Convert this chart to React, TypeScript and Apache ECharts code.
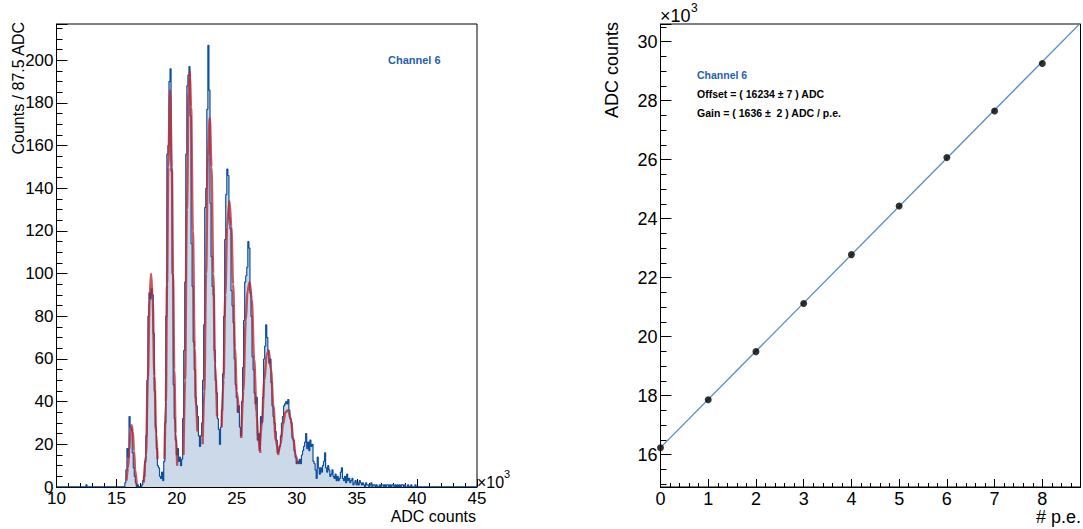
import React, { useEffect, useRef } from 'react';
import * as echarts from 'echarts';

// ---------- Left panel: ADC spectrum (bins of 87.5 ADC) ----------
const HIST_MIN = 10000;
const HIST_MAX = 45000;
const BIN_WIDTH = 87.5;
const FIRST_BIN = 65; // first listed bin starts at 15687.5 ADC
const counts = [
  2, 8, 18, 14, 33, 28, 27, 16, 9, 5,
  2, 0, 1, 0, 0, 0, 1, 3, 5, 12,
  24, 50, 80, 91, 88, 93, 90, 72, 45, 28,
  18, 10, 9, 5, 4, 7, 3, 12, 30, 80,
  156, 160, 190, 196, 148, 100, 48, 32, 22, 15,
  18, 12, 14, 10, 13, 32, 64, 96, 156, 188,
  193, 197, 174, 114, 94, 68, 55, 42, 38, 33,
  24, 19, 24, 30, 50, 76, 131, 140, 177, 207,
  186, 133, 108, 94, 90, 64, 50, 44, 32, 27,
  20, 28, 36, 53, 80, 116, 137, 149, 146, 126,
  121, 92, 85, 77, 60, 48, 42, 35, 38, 28,
  24, 40, 56, 78, 96, 99, 103, 115, 112, 91,
  80, 61, 55, 44, 39, 42, 22, 25, 18, 33,
  30, 42, 60, 66, 76, 70, 64, 58, 60, 49,
  38, 33, 30, 26, 22, 16, 17, 19, 24, 30,
  33, 38, 39, 40, 39, 41, 36, 32, 30, 23,
  22, 17, 14, 11, 12, 11, 13, 11, 15, 17,
  19, 21, 25, 18, 21, 17, 22, 19, 20, 12,
  11, 8, 4, 14, 9, 6, 9, 7, 10, 12,
  16, 9, 7, 10, 8, 5, 6, 8, 5, 4,
  6, 3, 5, 3, 4, 7, 9, 4, 3, 5,
  2, 6, 3, 4, 2, 3, 4, 1, 2, 3,
  1, 2, 1, 3, 2, 1, 2, 1, 0, 2,
  1, 1, 0, 1, 2, 0, 1, 1, 0, 1,
  0, 0, 1, 0, 1, 1, 0, 1, 0, 1,
  1, 0, 1, 0, 1, 1, 0, 1, 0, 1,
  0, 1, 0, 1, 1, 0, 1, 0, 0, 1,
  0, 0, 1, 0, 0, 0, 1,
];
const strayBins: [number, number][] = [[28, 1]];

// fitted peaks, read as [ADC, counts] along each red curve
const fitSegments: [number, number][][] = [
  [[15820, 3], [15950, 9], [16050, 17], [16150, 26], [16250, 29], [16350, 26], [16450, 17], [16550, 8], [16680, 1]],
  [[17260, 2], [17450, 15], [17600, 50], [17750, 88], [17870, 100], [18000, 88], [18150, 52], [18300, 25], [18410, 13]],
  [[18990, 13], [19100, 40], [19200, 95], [19300, 150], [19450, 186], [19600, 150], [19700, 100], [19800, 55], [19920, 25], [20050, 10]],
  [[20570, 15], [20700, 50], [20850, 130], [21000, 185], [21090, 195], [21200, 178], [21350, 120], [21500, 65], [21620, 38], [21730, 26]],
  [[22160, 20], [22300, 45], [22450, 100], [22600, 155], [22760, 173], [22900, 150], [23050, 100], [23200, 58], [23370, 33]],
  [[23740, 28], [23900, 50], [24050, 90], [24200, 122], [24400, 134], [24550, 122], [24700, 95], [24850, 65], [25000, 45], [25180, 35]],
  [[25380, 23], [25550, 45], [25750, 78], [25900, 92], [26080, 96], [26250, 88], [26450, 60], [26650, 35], [26800, 22], [26970, 16]],
  [[26900, 17], [27100, 30], [27300, 50], [27500, 62], [27660, 64], [27850, 55], [28050, 38], [28250, 22], [28440, 16]],
  [[28440, 15], [28650, 20], [28850, 29], [29050, 35], [29270, 36], [29500, 32], [29700, 23], [29900, 15], [30080, 11]],
];

// ---------- Right panel: peak position vs number of p.e. ----------
const peNumbers = [0, 1, 2, 3, 4, 5, 6, 7, 8];
const peakPositions = [16230, 17860, 19490, 21120, 22780, 24430, 26070, 27650, 29260];
const fitLineX = [0, 8.8];
const fitLineY = [16234, 30631];

const FONT = '"Liberation Sans", Arial, Helvetica, sans-serif';

export default function App() {
  const ref = useRef<HTMLDivElement>(null);

  useEffect(() => {
    if (!ref.current) return;
    const chart = echarts.init(ref.current, null, { renderer: 'svg' });

    const nBins = Math.round((HIST_MAX - HIST_MIN) / BIN_WIDTH);
    const full: number[] = new Array(nBins).fill(0);
    strayBins.forEach(([b, c]) => { full[b] = c; });
    counts.forEach((c, i) => { full[FIRST_BIN + i] = c; });
    const histData = full.map((c, i) => [HIST_MIN + i * BIN_WIDTH, c]);
    histData.push([HIST_MAX, full[nBins - 1]]);

    const axisCommon = {
      axisLine: { show: true, onZero: false, lineStyle: { color: '#000', width: 1 } },
      splitLine: { show: false },
    };

    const option: any = {
      animation: false,
      backgroundColor: '#fff',
      grid: [
        { left: 56.5, top: 24, width: 420.5, height: 463, show: true, borderColor: '#000', borderWidth: 1, backgroundColor: 'transparent' },
        { left: 660.5, top: 24, width: 420, height: 463, show: true, borderColor: '#000', borderWidth: 1, backgroundColor: 'transparent' },
      ],
      xAxis: [
        {
          ...axisCommon,
          gridIndex: 0, type: 'value', min: HIST_MIN, max: HIST_MAX, interval: 5000,
          axisTick: { show: true, inside: true, length: 8, lineStyle: { color: '#000' } },
          minorTick: { show: true, splitNumber: 5, length: 4, lineStyle: { color: '#000' } },
          axisLabel: { color: '#000', fontSize: 17, fontFamily: FONT, margin: 3, formatter: (v: number) => String(v / 1000) },
        },
        {
          ...axisCommon,
          gridIndex: 1, type: 'value', min: 0, max: 8.8, interval: 1,
          axisTick: { show: true, inside: true, length: 8, lineStyle: { color: '#000' } },
          minorTick: { show: true, splitNumber: 5, length: 4, lineStyle: { color: '#000' } },
          axisLabel: { color: '#000', fontSize: 18, fontFamily: FONT, margin: 3, showMaxLabel: false },
        },
      ],
      yAxis: [
        {
          ...axisCommon,
          gridIndex: 0, type: 'value', min: 0, max: 217, interval: 20,
          axisTick: { show: true, inside: true, length: 11, lineStyle: { color: '#000' } },
          minorTick: { show: true, splitNumber: 4, length: 6, lineStyle: { color: '#000' } },
          axisLabel: { color: '#000', fontSize: 17, fontFamily: FONT, margin: 3, showMaxLabel: false },
        },
        {
          ...axisCommon,
          gridIndex: 1, type: 'value', min: 14900, max: 30600, splitNumber: 8,
          axisTick: { show: true, inside: true, length: 11, lineStyle: { color: '#000' } },
          minorTick: { show: true, splitNumber: 4, length: 6, lineStyle: { color: '#000' } },
          axisLabel: {
            color: '#000', fontSize: 18, fontFamily: FONT, margin: 3,
            showMaxLabel: false, showMinLabel: false,
            formatter: (v: number) => String(Math.round(v / 100) / 10),
          },
        },
      ],
      series: [
        {
          type: 'line', xAxisIndex: 0, yAxisIndex: 0, data: histData, step: 'end',
          symbol: 'none', showSymbol: false, silent: true, z: 2,
          lineStyle: { color: '#0d509f', width: 1.2 },
          areaStyle: { color: '#cbd9e8', opacity: 1 },
        },
        ...fitSegments.map((seg) => ({
          type: 'line', xAxisIndex: 0, yAxisIndex: 0, data: seg, smooth: 0.35, smoothMonotone: 'x',
          symbol: 'none', showSymbol: false, silent: true, z: 3,
          lineStyle: { color: 'rgba(185, 40, 50, 0.78)', width: 2.4 },
        })),
        {
          type: 'line', xAxisIndex: 1, yAxisIndex: 1,
          data: fitLineX.map((x, i) => [x, fitLineY[i]]),
          symbol: 'none', showSymbol: false, silent: true, z: 2,
          lineStyle: { color: '#5a8dc4', width: 1.3 },
        },
        {
          type: 'scatter', xAxisIndex: 1, yAxisIndex: 1,
          data: peNumbers.map((n, i) => [n, peakPositions[i]]),
          symbol: 'circle', symbolSize: 7, silent: true, z: 4,
          itemStyle: { color: '#000' },
        },
      ],
      graphic: [
        { type: 'text', x: 18, y: 22, rotation: Math.PI / 2, style: { text: 'Counts / 87.5 ADC', fontSize: 16, fontFamily: FONT, fill: '#000', align: 'right', verticalAlign: 'middle' } },
        { type: 'text', x: 476, y: 516, style: { text: 'ADC counts', fontSize: 16, fontFamily: FONT, fill: '#000', align: 'right', verticalAlign: 'middle' } },
        { type: 'text', x: 477, y: 482, style: { text: '×10', fontSize: 16, fontFamily: FONT, fill: '#000', align: 'left', verticalAlign: 'middle' } },
        { type: 'text', x: 504, y: 474, style: { text: '3', fontSize: 11, fontFamily: FONT, fill: '#000', align: 'left', verticalAlign: 'middle' } },
        { type: 'text', x: 388, y: 60, style: { text: 'Channel 6', fontSize: 11, fontWeight: 'bold', fontFamily: FONT, fill: '#1f5fae', align: 'left', verticalAlign: 'middle' } },

        { type: 'text', x: 612, y: 22, rotation: Math.PI / 2, style: { text: 'ADC counts', fontSize: 18, fontFamily: FONT, fill: '#000', align: 'right', verticalAlign: 'middle' } },
        { type: 'text', x: 1081, y: 517, style: { text: '# p.e.', fontSize: 18, fontFamily: FONT, fill: '#000', align: 'right', verticalAlign: 'middle' } },
        { type: 'text', x: 660, y: 16, style: { text: '×10', fontSize: 18, fontFamily: FONT, fill: '#000', align: 'left', verticalAlign: 'middle' } },
        { type: 'text', x: 691, y: 8, style: { text: '3', fontSize: 12, fontFamily: FONT, fill: '#000', align: 'left', verticalAlign: 'middle' } },
        { type: 'text', x: 697, y: 75, style: { text: 'Channel 6', fontSize: 10.5, fontWeight: 'bold', fontFamily: FONT, fill: '#1f5fae', align: 'left', verticalAlign: 'middle' } },
        { type: 'text', x: 697, y: 94, style: { text: 'Offset = ( 16234 ± 7 ) ADC', fontSize: 10.5, fontWeight: 'bold', fontFamily: FONT, fill: '#000', align: 'left', verticalAlign: 'middle' } },
        { type: 'text', x: 697, y: 113, style: { text: 'Gain = ( 1636 ±  2 ) ADC / p.e.', fontSize: 10.5, fontWeight: 'bold', fontFamily: FONT, fill: '#000', align: 'left', verticalAlign: 'middle' } },
      ],
    };

    chart.setOption(option);
    return () => chart.dispose();
  }, []);

  return (
    <div
      ref={ref}
      style={{ position: 'absolute', left: 0, top: 0, width: 1083, height: 529, background: '#fff' }}
    />
  );
}
